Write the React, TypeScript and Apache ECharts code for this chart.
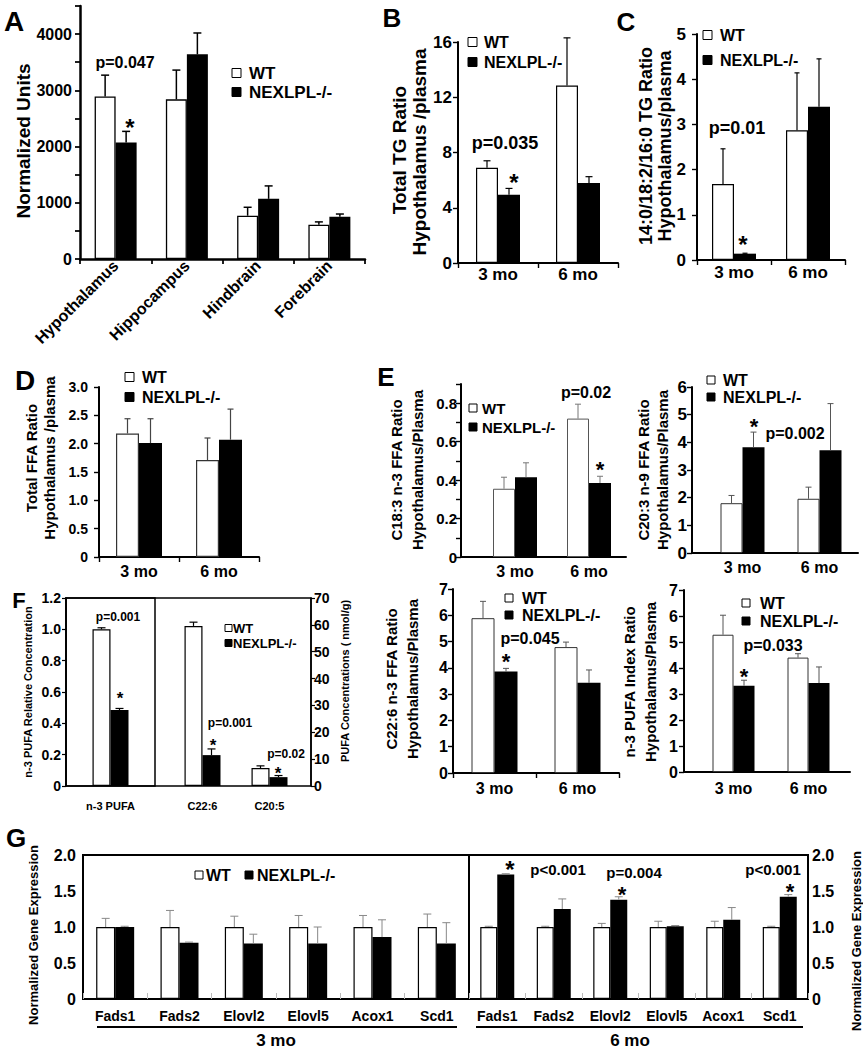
import React, { useEffect, useRef } from "react";
import * as echarts from "echarts";

const SANS = "'Liberation Sans', Arial, Helvetica, sans-serif";
const NARROW = "'Liberation Sans Narrow', 'Arial Narrow', 'Liberation Sans', Arial, sans-serif";

// ---------- DATA ----------
const A_CATS = ["Hypothalamus", "Hippocampus", "Hindbrain", "Forebrain"];
const A_WT = [2890, 2840, 770, 610];
const A_WT_ERR = [3270, 3360, 920, 660];
const A_KO = [2070, 3640, 1070, 750];
const A_KO_ERR = [2270, 4020, 1300, 800];

const AGE_CATS = ["3 mo", "6 mo"];

const B_WT = [6.9, 12.85];
const B_WT_ERR = [7.4, 16.3];
const B_KO = [4.95, 5.8];
const B_KO_ERR = [5.4, 6.25];

const C_WT = [1.68, 2.87];
const C_WT_ERR = [2.46, 4.14];
const C_KO = [0.14, 3.39];
const C_KO_ERR = [0.15, 4.45];

const D_WT = [2.18, 1.71];
const D_WT_ERR = [2.44, 2.1];
const D_KO = [2.01, 2.07];
const D_KO_ERR = [2.44, 2.61];

const E1_WT = [0.355, 0.72];
const E1_WT_ERR = [0.415, 0.795];
const E1_KO = [0.415, 0.385];
const E1_KO_ERR = [0.49, 0.42];

const E2_WT = [1.8, 1.96];
const E2_WT_ERR = [2.08, 2.38];
const E2_KO = [3.82, 3.71];
const E2_KO_ERR = [4.37, 5.4];

const E3_WT = [5.89, 4.79];
const E3_WT_ERR = [6.53, 4.98];
const E3_KO = [3.86, 3.43];
const E3_KO_ERR = [3.98, 3.92];

const E4_WT = [5.28, 4.4];
const E4_WT_ERR = [6.03, 4.55];
const E4_KO = [3.32, 3.42];
const E4_KO_ERR = [3.53, 4.04];

const F_LEFT_CATS = ["n-3 PUFA"];
const F_LEFT_WT = [1.0];
const F_LEFT_WT_ERR = [1.01];
const F_LEFT_KO = [0.485];
const F_LEFT_KO_ERR = [0.495];
const F_RIGHT_CATS = ["C22:6", "C20:5"];
const F_RIGHT_WT = [59.6, 6.7];
const F_RIGHT_WT_ERR = [61.0, 7.5];
const F_RIGHT_KO = [11.5, 3.3];
const F_RIGHT_KO_ERR = [13.8, 3.9];

const G_CATS = ["Fads1", "Fads2", "Elovl2", "Elovl5", "Acox1", "Scd1"];
const G3_WT = [1, 1, 1, 1, 1, 1];
const G3_WT_ERR = [1.12, 1.23, 1.15, 1.16, 1.16, 1.18];
const G3_KO = [1.0, 0.78, 0.77, 0.77, 0.86, 0.77];
const G3_KO_ERR = [1.01, 0.79, 0.9, 1.0, 1.1, 1.06];
const G6_WT = [1, 1, 1, 1, 1, 1];
const G6_WT_ERR = [1.01, 1.01, 1.05, 1.08, 1.08, 1.01];
const G6_KO = [1.73, 1.25, 1.38, 1.01, 1.1, 1.42];
const G6_KO_ERR = [1.74, 1.39, 1.42, 1.02, 1.27, 1.45];

// ---------- helpers ----------
const fixed1 = (v: number) => (Math.abs(v) < 1e-9 ? "0" : v.toFixed(1));
const intFmt = (v: number) => String(Math.round(v));
const everyThousand = (v: number) => (Math.round(v) % 1000 === 0 ? String(Math.round(v)) : "");
const evenTenths = (v: number) => {
  const k = Math.round(v * 10);
  return k % 2 === 0 ? (k === 0 ? "0" : (k / 10).toFixed(1)) : "";
};

type BarStyle = {
  bw: number;
  wtBorder: string;
  wtBorderW: number;
  errColor: string;
  errW: number;
  cap: number;
};

function errSeries(xi: number, yi: number, vals: number[], tops: number[], shift: number, st: BarStyle) {
  return {
    type: "custom",
    xAxisIndex: xi,
    yAxisIndex: yi,
    silent: true,
    z: 3,
    data: vals.map((v, i) => [i, v, tops[i]]),
    renderItem: (_p: any, api: any) => {
      const b = api.coord([api.value(0), api.value(1)]);
      const t = api.coord([api.value(0), api.value(2)]);
      const x = b[0] + shift;
      const sty = { stroke: st.errColor, lineWidth: st.errW };
      return {
        type: "group",
        children: [
          { type: "line", shape: { x1: x, y1: b[1], x2: x, y2: t[1] }, style: sty },
          { type: "line", shape: { x1: x - st.cap / 2, y1: t[1], x2: x + st.cap / 2, y2: t[1] }, style: sty },
        ],
      };
    },
  };
}

function addBars(o: any, xi: number, yi: number, wt: number[], wtErr: number[], ko: number[], koErr: number[], st: BarStyle) {
  o.series.push({
    type: "bar", name: "WT", xAxisIndex: xi, yAxisIndex: yi, data: wt, barWidth: st.bw, barGap: "0%", silent: true, z: 2,
    itemStyle: { color: "#fff", borderColor: st.wtBorder, borderWidth: st.wtBorderW },
  });
  o.series.push({
    type: "bar", name: "NEXLPL-/-", xAxisIndex: xi, yAxisIndex: yi, data: ko, barWidth: st.bw, barGap: "0%", silent: true, z: 2,
    itemStyle: { color: "#000" },
  });
  o.series.push(errSeries(xi, yi, wt, wtErr, -st.bw / 2, st));
  o.series.push(errSeries(xi, yi, ko, koErr, st.bw / 2, st));
}

type Spec = {
  left: number; top: number; right: number; bottom: number;
  barLeft?: number; barRight?: number;
  cats: string[];
  wt: number[]; wtErr: number[]; ko: number[]; koErr: number[];
  yMax: number; yInterval: number; yFmt: (v: number) => string;
  lineW: number;
  tickFont: number; tickFamily: string; tickMargin: number;
  xFont: number; xFamily: string; xMargin: number; xRotate?: number;
  st: BarStyle;
};

function addPanel(o: any, s: Spec) {
  const line = { show: true, onZero: false, lineStyle: { color: "#000", width: s.lineW } };
  const tick = { show: true, length: 5, lineStyle: { color: "#000", width: Math.max(1, s.lineW * 0.7) } };
  const yLabel = { formatter: s.yFmt, fontSize: s.tickFont, fontWeight: "bold", fontFamily: s.tickFamily, color: "#000", margin: s.tickMargin };
  const xLabel = { interval: 0, rotate: s.xRotate ?? 0, fontSize: s.xFont, fontWeight: "bold", fontFamily: s.xFamily, color: "#000", margin: s.xMargin };
  const yBase = { type: "value", min: 0, max: s.yMax, interval: s.yInterval, splitLine: { show: false } };
  const gFrame = o.grid.length;
  o.grid.push({ left: s.left, top: s.top, width: s.right - s.left, height: s.bottom - s.top });
  let xi: number;
  let yi: number;
  if (s.barLeft === undefined) {
    xi = o.xAxis.length;
    yi = o.yAxis.length;
    o.xAxis.push({ gridIndex: gFrame, type: "category", data: s.cats, axisLine: line, axisTick: tick, axisLabel: xLabel, splitLine: { show: false } });
    o.yAxis.push({ gridIndex: gFrame, ...yBase, axisLine: line, axisTick: tick, axisLabel: yLabel });
  } else {
    o.xAxis.push({ gridIndex: gFrame, type: "category", data: [""], axisLine: line, axisTick: { show: false }, axisLabel: { show: false } });
    o.yAxis.push({ gridIndex: gFrame, ...yBase, axisLine: line, axisTick: tick, axisLabel: yLabel });
    const gBar = o.grid.length;
    o.grid.push({ left: s.barLeft, top: s.top, width: (s.barRight as number) - s.barLeft, height: s.bottom - s.top });
    xi = o.xAxis.length;
    yi = o.yAxis.length;
    o.xAxis.push({ gridIndex: gBar, type: "category", data: s.cats, axisLine: { show: false }, axisTick: { show: false }, axisLabel: xLabel });
    o.yAxis.push({ gridIndex: gBar, ...yBase, show: false });
  }
  addBars(o, xi, yi, s.wt, s.wtErr, s.ko, s.koErr, s.st);
}

function txt(x: number, y: number, text: string, size: number, opts: any = {}) {
  return {
    type: "text",
    x,
    y,
    rotation: opts.rot ?? 0,
    z: 10,
    style: {
      text,
      fontSize: size,
      fontWeight: "bold",
      fontFamily: opts.family ?? SANS,
      fill: "#000",
      textAlign: opts.align ?? "center",
      textVerticalAlign: "middle",
      verticalAlign: "middle",
    },
  };
}
const star = (x: number, y: number, size: number) => txt(x, y + size * 0.2, "*", size);

function legendV(x: number, y1: number, y2: number, tx: number, size: number, sq: number, family = SANS) {
  return [
    { type: "rect", z: 10, shape: { x, y: y1 - sq / 2, width: sq, height: sq }, style: { fill: "#fff", stroke: "#000", lineWidth: 1 } },
    txt(tx, y1, "WT", size, { align: "left", family }),
    { type: "rect", z: 10, shape: { x, y: y2 - sq / 2, width: sq, height: sq }, style: { fill: "#000", stroke: "#000", lineWidth: 1 } },
    txt(tx, y2, "NEXLPL-/-", size, { align: "left", family }),
  ];
}
const hline = (x1: number, x2: number, y: number, w = 2) => ({ type: "line", z: 10, shape: { x1, y1: y, x2, y2: y }, style: { stroke: "#000", lineWidth: w } });

function buildOption() {
  const o: any = { animation: false, backgroundColor: "#fff", grid: [], xAxis: [], yAxis: [], series: [], graphic: [] };
  const R = Math.PI / 2;

  // A
  addPanel(o, {
    left: 80, top: 6, right: 365, bottom: 259, cats: A_CATS,
    wt: A_WT, wtErr: A_WT_ERR, ko: A_KO, koErr: A_KO_ERR,
    yMax: 4500, yInterval: 500, yFmt: everyThousand, lineW: 2.5,
    tickFont: 16, tickFamily: SANS, tickMargin: 8,
    xFont: 16, xFamily: SANS, xMargin: 4, xRotate: 45,
    st: { bw: 21, wtBorder: "#000", wtBorderW: 1.3, errColor: "#000", errW: 1.5, cap: 8 },
  });
  // B
  addPanel(o, {
    left: 458, top: 42, right: 618, bottom: 263, cats: AGE_CATS,
    wt: B_WT, wtErr: B_WT_ERR, ko: B_KO, koErr: B_KO_ERR,
    yMax: 16, yInterval: 4, yFmt: intFmt, lineW: 2,
    tickFont: 17, tickFamily: NARROW, tickMargin: 6,
    xFont: 17, xFamily: NARROW, xMargin: 3,
    st: { bw: 22, wtBorder: "#000", wtBorderW: 1.2, errColor: "#000", errW: 1.2, cap: 7 },
  });
  // C
  addPanel(o, {
    left: 697, top: 34, right: 845, bottom: 260, cats: AGE_CATS,
    wt: C_WT, wtErr: C_WT_ERR, ko: C_KO, koErr: C_KO_ERR,
    yMax: 5, yInterval: 1, yFmt: intFmt, lineW: 2,
    tickFont: 17, tickFamily: NARROW, tickMargin: 11,
    xFont: 17, xFamily: NARROW, xMargin: 4,
    st: { bw: 22, wtBorder: "#000", wtBorderW: 1.2, errColor: "#000", errW: 1.2, cap: 5 },
  });
  // D
  addPanel(o, {
    left: 99, top: 387, right: 259, bottom: 557, cats: AGE_CATS,
    wt: D_WT, wtErr: D_WT_ERR, ko: D_KO, koErr: D_KO_ERR,
    yMax: 3, yInterval: 0.5, yFmt: fixed1, lineW: 2,
    tickFont: 14, tickFamily: SANS, tickMargin: 11,
    xFont: 16, xFamily: SANS, xMargin: 6,
    st: { bw: 23, wtBorder: "#333", wtBorderW: 1.2, errColor: "#444", errW: 1.2, cap: 6 },
  });
  // E1
  addPanel(o, {
    left: 461, top: 384, right: 626, bottom: 557, barLeft: 478, barRight: 626, cats: AGE_CATS,
    wt: E1_WT, wtErr: E1_WT_ERR, ko: E1_KO, koErr: E1_KO_ERR,
    yMax: 0.9, yInterval: 0.1, yFmt: evenTenths, lineW: 2,
    tickFont: 15, tickFamily: SANS, tickMargin: 4,
    xFont: 16, xFamily: SANS, xMargin: 6,
    st: { bw: 22, wtBorder: "#555", wtBorderW: 1, errColor: "#777", errW: 1, cap: 6 },
  });
  // E2
  addPanel(o, {
    left: 692, top: 387, right: 858, bottom: 553, barLeft: 704, barRight: 858, cats: AGE_CATS,
    wt: E2_WT, wtErr: E2_WT_ERR, ko: E2_KO, koErr: E2_KO_ERR,
    yMax: 6, yInterval: 1, yFmt: intFmt, lineW: 2,
    tickFont: 17, tickFamily: SANS, tickMargin: 5,
    xFont: 16, xFamily: SANS, xMargin: 6,
    st: { bw: 22, wtBorder: "#333", wtBorderW: 1, errColor: "#555", errW: 1, cap: 6 },
  });
  // E3
  addPanel(o, {
    left: 453, top: 589, right: 619, bottom: 773, cats: AGE_CATS,
    wt: E3_WT, wtErr: E3_WT_ERR, ko: E3_KO, koErr: E3_KO_ERR,
    yMax: 7, yInterval: 1, yFmt: intFmt, lineW: 2,
    tickFont: 16, tickFamily: SANS, tickMargin: 5,
    xFont: 16, xFamily: SANS, xMargin: 7,
    st: { bw: 23, wtBorder: "#333", wtBorderW: 1, errColor: "#555", errW: 1, cap: 6 },
  });
  // E4
  addPanel(o, {
    left: 684, top: 590, right: 850, bottom: 772, barLeft: 696, barRight: 846, cats: AGE_CATS,
    wt: E4_WT, wtErr: E4_WT_ERR, ko: E4_KO, koErr: E4_KO_ERR,
    yMax: 7, yInterval: 1, yFmt: intFmt, lineW: 2,
    tickFont: 16, tickFamily: SANS, tickMargin: 6,
    xFont: 16, xFamily: SANS, xMargin: 8,
    st: { bw: 21, wtBorder: "#333", wtBorderW: 1, errColor: "#555", errW: 1, cap: 6 },
  });

  // F (frame with two value axes)
  {
    const fLine = { show: true, onZero: false, lineStyle: { color: "#000", width: 1.5 } };
    const fTick = { show: true, length: 4, lineStyle: { color: "#000", width: 1.2 } };
    const fLab = { fontSize: 14, fontWeight: "bold", fontFamily: SANS, color: "#000" };
    const g0 = o.grid.length;
    o.grid.push({ left: 66, top: 598, width: 245, height: 188, show: true, borderColor: "#000", borderWidth: 1.5, backgroundColor: "transparent" });
    o.xAxis.push({ gridIndex: g0, type: "category", data: [""], show: false });
    o.yAxis.push({ gridIndex: g0, type: "value", position: "left", min: 0, max: 1.2, interval: 0.2, splitLine: { show: false }, axisLine: fLine, axisTick: fTick, axisLabel: { ...fLab, margin: 5, formatter: fixed1 } });
    o.yAxis.push({ gridIndex: g0, type: "value", position: "right", min: 0, max: 70, interval: 10, splitLine: { show: false }, axisLine: fLine, axisTick: fTick, axisLabel: { ...fLab, margin: 3, formatter: intFmt } });
    const xLab = { interval: 0, fontSize: 11, fontWeight: "bold", fontFamily: SANS, color: "#000", margin: 14 };
    const fSt: BarStyle = { bw: 18, wtBorder: "#000", wtBorderW: 1.2, errColor: "#000", errW: 1.2, cap: 8 };
    const g1 = o.grid.length;
    o.grid.push({ left: 66, top: 598, width: 89, height: 188, show: true, borderColor: "#000", borderWidth: 1.5, backgroundColor: "transparent" });
    let xi = o.xAxis.length, yi = o.yAxis.length;
    o.xAxis.push({ gridIndex: g1, type: "category", data: F_LEFT_CATS, axisLine: { show: false }, axisTick: { show: false }, axisLabel: xLab });
    o.yAxis.push({ gridIndex: g1, type: "value", min: 0, max: 1.2, interval: 0.2, show: false });
    addBars(o, xi, yi, F_LEFT_WT, F_LEFT_WT_ERR, F_LEFT_KO, F_LEFT_KO_ERR, fSt);
    const g2 = o.grid.length;
    o.grid.push({ left: 169, top: 598, width: 134, height: 188 });
    xi = o.xAxis.length; yi = o.yAxis.length;
    o.xAxis.push({ gridIndex: g2, type: "category", data: F_RIGHT_CATS, axisLine: { show: false }, axisTick: { show: false }, axisLabel: xLab });
    o.yAxis.push({ gridIndex: g2, type: "value", min: 0, max: 70, interval: 10, show: false });
    addBars(o, xi, yi, F_RIGHT_WT, F_RIGHT_WT_ERR, F_RIGHT_KO, F_RIGHT_KO_ERR, fSt);
  }

  // G (two boxed halves)
  {
    const gLab = { interval: 0, fontSize: 14, fontWeight: "bold", fontFamily: SANS, color: "#000", margin: 10 };
    const gTick = { show: true, inside: true, length: 6, lineStyle: { color: "#bbb", width: 1 } };
    const yLab = { fontSize: 16, fontWeight: "bold", fontFamily: SANS, color: "#000", formatter: fixed1 };
    const halves = [
      { left: 83, width: 386, pos: "left", margin: 7, wt: G3_WT, wtErr: G3_WT_ERR, ko: G3_KO, koErr: G3_KO_ERR, bw: 19 },
      { left: 469, width: 339, pos: "right", margin: 4, wt: G6_WT, wtErr: G6_WT_ERR, ko: G6_KO, koErr: G6_KO_ERR, bw: 17 },
    ];
    halves.forEach((h) => {
      const gi = o.grid.length;
      o.grid.push({ left: h.left, top: 855, width: h.width, height: 144, show: true, borderColor: "#000", borderWidth: 2, backgroundColor: "transparent" });
      const xi = o.xAxis.length, yi = o.yAxis.length;
      o.xAxis.push({ gridIndex: gi, type: "category", data: G_CATS, axisLine: { show: false }, axisTick: gTick, axisLabel: gLab });
      o.yAxis.push({ gridIndex: gi, type: "value", position: h.pos, min: 0, max: 2, interval: 0.5, splitLine: { show: false }, axisLine: { show: false }, axisTick: { show: false }, axisLabel: { ...yLab, margin: h.margin } });
      addBars(o, xi, yi, h.wt, h.wtErr, h.ko, h.koErr, { bw: h.bw, wtBorder: "#000", wtBorderW: 1.2, errColor: "#888", errW: 1, cap: 8 });
    });
  }

  // ---------- annotations ----------
  const g: any[] = o.graphic;
  // panel letters
  g.push(txt(14, 21, "A", 28), txt(392, 18, "B", 26, { family: NARROW }), txt(626, 22, "C", 26, { family: NARROW }));
  g.push(txt(25, 380, "D", 28), txt(386, 377, "E", 26), txt(19, 600, "F", 22), txt(16, 838, "G", 26));

  // axis titles
  g.push(txt(23, 141, "Normalized Units", 19, { rot: R }));
  g.push(txt(399, 150, "Total TG Ratio", 19, { rot: R, family: NARROW }), txt(419, 152, "Hypothalamus /plasma", 19, { rot: R, family: NARROW }));
  g.push(txt(646, 146, "14:0/18:2/16:0 TG Ratio", 18, { rot: R, family: NARROW }), txt(665, 146, "Hypothalamus/plasma", 18, { rot: R, family: NARROW }));
  g.push(txt(31, 458, "Total FFA Ratio", 15, { rot: R }), txt(49, 458, "Hypothalamus /plasma", 15, { rot: R }));
  g.push(txt(396, 470, "C18:3 n-3 FFA Ratio", 15, { rot: R }), txt(417, 470, "Hypothalamus/Plasma", 15, { rot: R }));
  g.push(txt(643, 470, "C20:3 n-9 FFA Ratio", 15, { rot: R }), txt(662, 470, "Hypothalamus/Plasma", 15, { rot: R }));
  g.push(txt(391, 679, "C22:6 n-3 FFA Ratio", 15, { rot: R }), txt(412, 679, "Hypothalamus/Plasma", 15, { rot: R }));
  g.push(txt(629, 682, "n-3 PUFA Index Ratio", 15, { rot: R }), txt(650, 682, "Hypothalamus/Plasma", 15, { rot: R }));
  g.push(txt(28, 692, "n-3 PUFA Relative Concentration", 11, { rot: R }), txt(345, 681, "PUFA Concentrations ( nmol/g)", 11, { rot: R }));
  g.push(txt(33, 935, "Normalized Gene Expression", 13, { rot: R }), txt(856, 941, "Normalized Gene Expression", 13, { rot: R }));

  // legends
  g.push(...legendV(232, 73, 92, 249, 17, 9));
  g.push(...legendV(468, 42, 62, 484, 16, 9, NARROW));
  g.push(...legendV(703, 35, 60, 720, 16, 9, NARROW));
  g.push(...legendV(125, 377, 397, 142, 16, 9));
  g.push(...legendV(469, 408, 427, 482, 15, 8));
  g.push(...legendV(707, 380, 397, 723, 16, 8));
  g.push(...legendV(505, 598, 615, 522, 16, 8));
  g.push(...legendV(742, 603, 621, 760, 16, 8));
  g.push(...legendV(225, 628, 643, 233, 13, 7));
  g.push(
    { type: "rect", z: 10, shape: { x: 195, y: 871, width: 8, height: 8 }, style: { fill: "#fff", stroke: "#000", lineWidth: 1 } },
    txt(206, 875, "WT", 16, { align: "left" }),
    { type: "rect", z: 10, shape: { x: 245, y: 871, width: 8, height: 8 }, style: { fill: "#000", stroke: "#000", lineWidth: 1 } },
    txt(257, 875, "NEXLPL-/-", 16, { align: "left" })
  );

  // p-values and asterisks
  g.push(txt(125, 62, "p=0.047", 16), star(130, 123, 24));
  g.push(txt(505, 143, "p=0.035", 18, { family: NARROW }), star(514, 178, 24));
  g.push(txt(737, 128, "p=0.01", 18, { family: NARROW }), star(743, 240, 24));
  g.push(txt(586, 392, "p=0.02", 16), star(600, 465, 22));
  g.push(star(754, 422, 22), txt(795, 433, "p=0.002", 16));
  g.push(txt(530, 638, "p=0.045", 16), star(506, 657, 22));
  g.push(txt(773, 645, "p=0.033", 16), star(744, 672, 22));
  g.push(txt(118, 617, "p=0.001", 12), star(120, 695, 17));
  g.push(txt(230, 723, "p=0.001", 12), star(213, 742, 17));
  g.push(txt(286, 754, "p=0.02", 12), star(278, 770, 17));
  g.push(star(510, 865, 24), txt(558, 869, "p<0.001", 15));
  g.push(txt(634, 872, "p=0.004", 15), star(622, 890, 22));
  g.push(txt(773, 869, "p<0.001", 15), star(790, 887, 22));

  // G group underlines and age labels
  g.push(hline(97, 457, 1027), hline(476, 803, 1027));
  g.push(txt(276, 1040, "3 mo", 17), txt(630, 1040, "6 mo", 17));

  return o;
}

export default function App() {
  const ref = useRef<HTMLDivElement>(null);
  useEffect(() => {
    if (!ref.current) return;
    const chart = echarts.init(ref.current, undefined, { renderer: "svg" });
    chart.setOption(buildOption());
    return () => chart.dispose();
  }, []);
  return (
    <div
      ref={ref}
      style={{ position: "absolute", left: 0, top: 0, width: 863, height: 1050, background: "#fff" }}
    />
  );
}
